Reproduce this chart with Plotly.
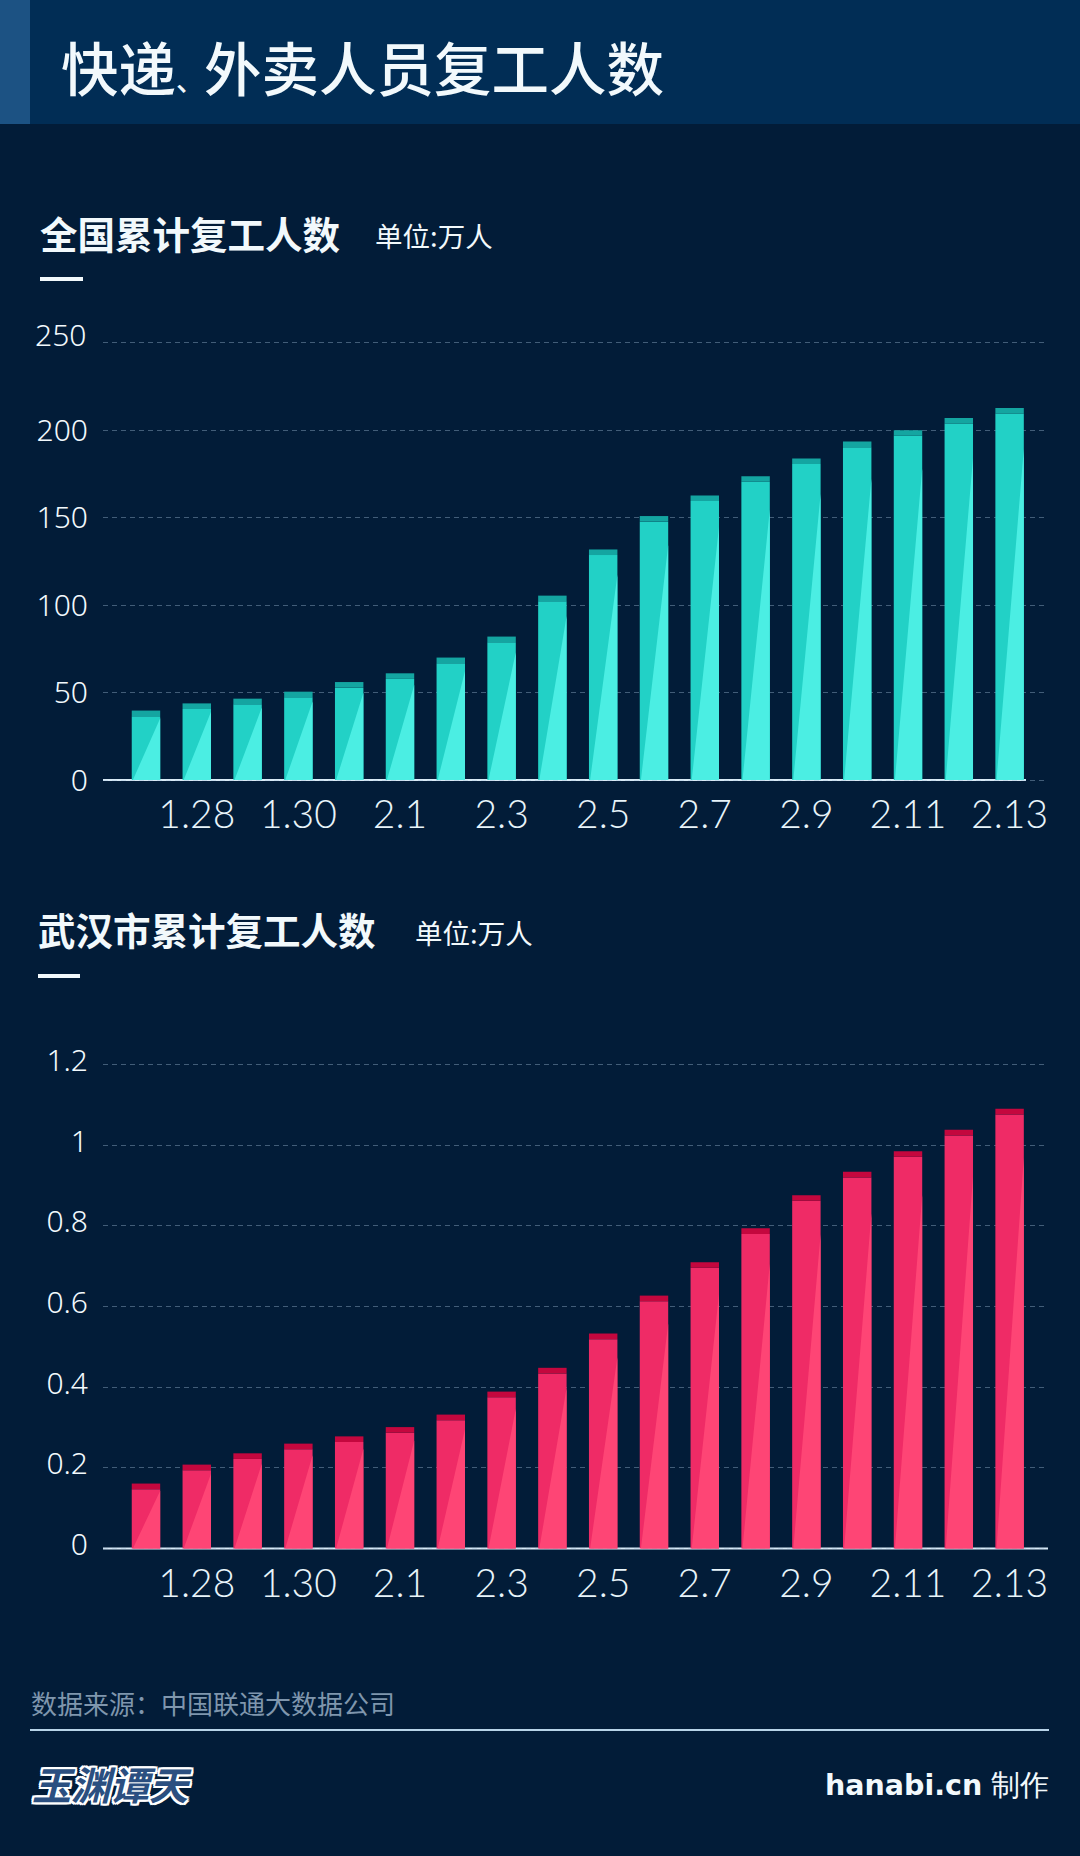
"""Express and delivery staff back at work, national and Wuhan."""

import plotly.graph_objects as go

WIDTH = 1080
HEIGHT = 1856
CJK = "Noto Sans CJK SC"

dates = ["1.27", "1.28", "1.29", "1.30", "1.31", "2.1", "2.2", "2.3", "2.4",
         "2.5", "2.6", "2.7", "2.8", "2.9", "2.10", "2.11", "2.12", "2.13"]
tick_dates = ["1.28", "1.30", "2.1", "2.3", "2.5", "2.7", "2.9", "2.11", "2.13"]

national = [39.7, 43.8, 46.5, 50.5, 56, 61, 70, 82, 105.4,
            131.8, 150.9, 162.7, 173.7, 183.8, 193.5, 200, 207, 212.7]
national_ticks = [0, 50, 100, 150, 200, 250]

wuhan = [0.161, 0.208, 0.236, 0.26, 0.278, 0.301, 0.332, 0.389, 0.448,
         0.533, 0.627, 0.71, 0.794, 0.876, 0.934, 0.985, 1.038, 1.09]
wuhan_ticks = [0, 0.2, 0.4, 0.6, 0.8, 1, 1.2]

BAR_WIDTH = 0.56
BG = "#021c38"
TICK_COLOR = "#f2f9fd"
PAD_PX = 6  # room around the axis range so the end gridlines are kept


def py(y_px):
    return 1 - y_px / HEIGHT


def add_panel(fig, row, values, ticks, y_px, cap, colors, shift, hidden=()):
    """Draw one bar panel: body, dark cap, lighter wedge."""
    xname = "x" if row == 1 else f"x{row}"
    yname = "y" if row == 1 else f"y{row}"
    xs = list(range(len(values)))
    body_color, cap_color, wedge_color = colors

    fig.add_trace(go.Bar(x=xs, y=[v - cap for v in values], width=BAR_WIDTH,
                         marker=dict(color=body_color, line_width=0),
                         xaxis=xname, yaxis=yname))
    fig.add_trace(go.Bar(x=xs, y=[cap] * len(values), base=[v - cap for v in values],
                         width=BAR_WIDTH, marker=dict(color=cap_color, line_width=0),
                         xaxis=xname, yaxis=yname))

    wedge_x, wedge_y = [], []
    for x, v in zip(xs, values):
        left, right = x - BAR_WIDTH / 2, x + BAR_WIDTH / 2
        wedge_x += [left + 0.04 * BAR_WIDTH, right, right, None]
        wedge_y += [0, v * 0.89, 0, None]
    fig.add_trace(go.Scatter(x=wedge_x, y=wedge_y, mode="lines", fill="toself",
                             fillcolor=wedge_color, line=dict(width=0),
                             hoverinfo="skip", xaxis=xname, yaxis=yname))

    per_px = ticks[-1] / (y_px[0] - y_px[1])
    x_key = "xaxis" if row == 1 else f"xaxis{row}"
    y_key = "yaxis" if row == 1 else f"yaxis{row}"
    fig.update_layout({
        x_key: dict(
            domain=[103 / WIDTH, 1048 / WIDTH], range=[-0.846, 17.756],
            tickvals=[dates.index(d) for d in tick_dates], ticktext=tick_dates,
            tickfont=dict(family="Lato", size=39, color="#e8f4fa", weight=300),
            showgrid=False, zeroline=False, showline=False, ticks="",
            ticklabelstandoff=2, anchor=yname, automargin=False,
        ),
        y_key: dict(
            domain=[py(y_px[0] + PAD_PX), py(y_px[1] - PAD_PX)],
            range=[-PAD_PX * per_px, ticks[-1] + PAD_PX * per_px],
            tickvals=ticks,
            ticktext=["" if t in hidden else str(t) for t in ticks],
            tickfont=dict(family="Noto Sans", size=30, color=TICK_COLOR, weight=300),
            showgrid=True, gridcolor="rgba(170,200,225,0.38)", gridwidth=1,
            griddash="5px,4px", zeroline=False, showline=False, ticks="",
            ticklabelstandoff=14, ticklabelshift=shift, anchor=xname, automargin=False,
        ),
    })


def rect(x0, x1, y0, y1, color):
    return dict(type="rect", xref="paper", yref="paper", x0=x0 / WIDTH, x1=x1 / WIDTH,
                y0=py(y1), y1=py(y0), fillcolor=color, line_width=0, layer="below")


def label(text, x, y, size, color="#f2f9fc", weight=400, family=CJK, anchor="left"):
    return dict(text=text, xref="paper", yref="paper", x=x / WIDTH, y=py(y),
                xanchor=anchor, yanchor="middle", showarrow=False,
                font=dict(family=family, size=size, color=color, weight=weight))


fig = go.Figure()
add_panel(fig, 1, national, national_ticks, (780, 342.7), 3.2,
          ("#22d1c6", "#14a5a1", "#4beee3"), 0, hidden=(250,))
add_panel(fig, 2, wuhan, wuhan_ticks, (1548.5, 1064.5), 0.014,
          ("#ef2b66", "#c4073e", "#fe4575"), -4)

shapes = [
    rect(0, WIDTH, 0, 124, "#012d55"),
    rect(0, 30, 0, 124, "#1c5283"),
    rect(40, 83, 277, 281, "#f2f9fc"),
    rect(38, 80, 974, 978, "#f2f9fc"),
    rect(103, 1026, 779, 781, "#d8e9f5"),
    rect(103, 1048, 1547.5, 1549.5, "#d8e9f5"),
    rect(30, 1049, 1729, 1731, "#b7d3e8"),
]

logo = label("<i>玉渊谭天</i>", 30, 1783, 39, color="#2b4f80", weight=700)
logo["font"]["shadow"] = ("2px 0 0 #fff, -2px 0 0 #fff, 0 2px 0 #fff, 0 -2px 0 #fff, "
                          "2px 2px 0 #fff, -2px -2px 0 #fff, 2px -2px 0 #fff, -2px 2px 0 #fff")

annotations = [
    label('快递<span style="font-size:28px">、</span>外卖人员复工人数', 59, 66, 57.5, weight=500),
    label("全国累计复工人数", 38, 232, 37.5, weight=700),
    label("单位:万人", 373, 235, 27.5),
    label("250", 88, 335, 30, color=TICK_COLOR, weight=300, family="Noto Sans", anchor="right"),
    label("武汉市累计复工人数", 36, 928, 37.5, weight=700),
    label("单位:万人", 413, 932, 27.5),
    label("数据来源：中国联通大数据公司", 29, 1702, 26, color="#7f96ad"),
    label("<b>hanabi.cn</b> 制作", 1051, 1785, 28.5, anchor="right", family="DejaVu Sans"),
    logo,
]

fig.update_layout(
    width=WIDTH, height=HEIGHT,
    margin=dict(l=0, r=0, t=0, b=0),
    paper_bgcolor=BG, plot_bgcolor=BG,
    barmode="overlay", showlegend=False,
    shapes=shapes, annotations=annotations,
    font=dict(family=CJK),
)

fig.write_html("out.html", config={"displayModeBar": False},
               post_script="document.body.style.margin = '0';")
